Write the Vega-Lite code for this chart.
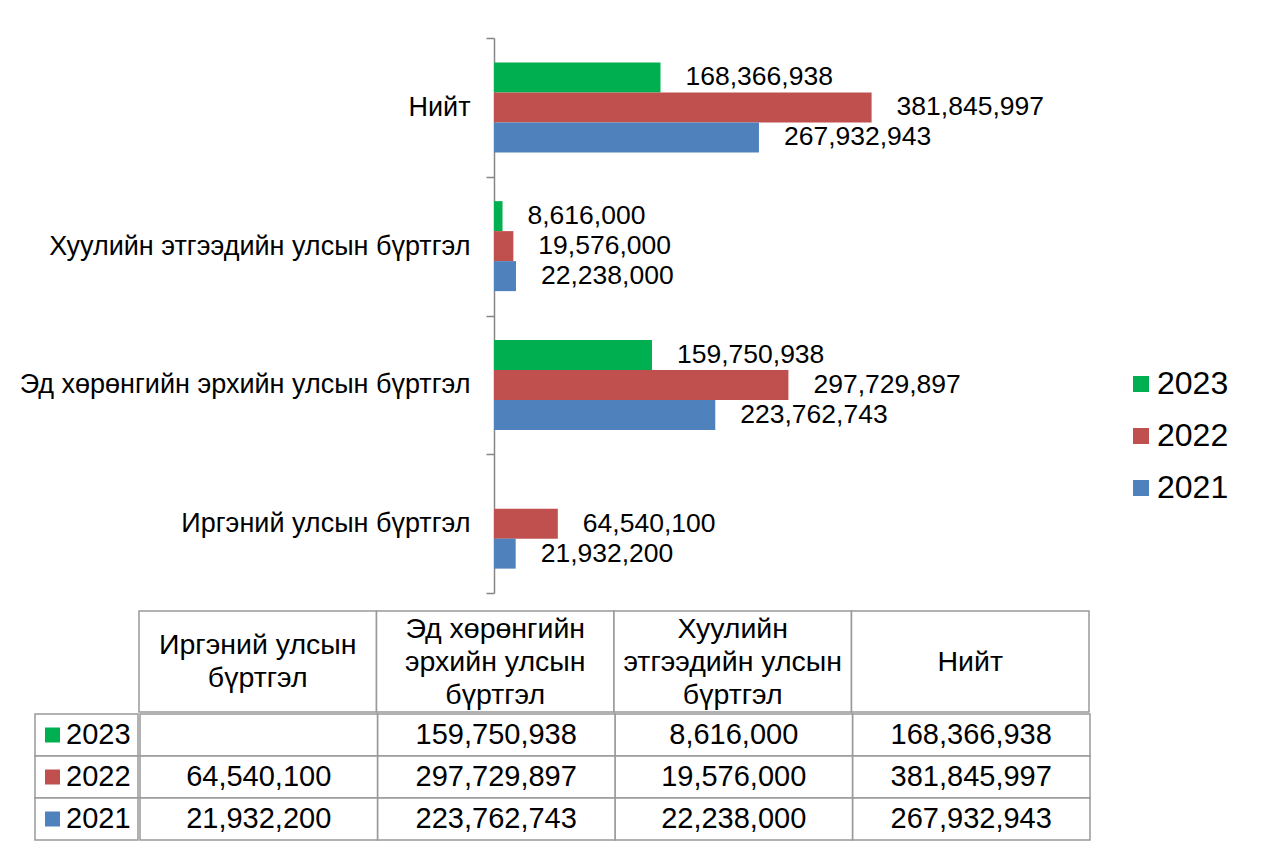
{
  "$schema": "https://vega.github.io/schema/vega-lite/v6.json",
  "padding": {"left": 19, "top": 24, "right": 5, "bottom": 5},
  "background": "#ffffff",
  "config": {"view": {"stroke": null}, "font": "Liberation Sans"},
  "datasets": {
    "main": [
      {"category": "Нийт", "year": "2023", "value": 168366938},
      {"category": "Нийт", "year": "2022", "value": 381845997},
      {"category": "Нийт", "year": "2021", "value": 267932943},
      {"category": "Хуулийн этгээдийн улсын бүртгэл", "year": "2023", "value": 8616000},
      {"category": "Хуулийн этгээдийн улсын бүртгэл", "year": "2022", "value": 19576000},
      {"category": "Хуулийн этгээдийн улсын бүртгэл", "year": "2021", "value": 22238000},
      {"category": "Эд хөрөнгийн эрхийн улсын бүртгэл", "year": "2023", "value": 159750938},
      {"category": "Эд хөрөнгийн эрхийн улсын бүртгэл", "year": "2022", "value": 297729897},
      {"category": "Эд хөрөнгийн эрхийн улсын бүртгэл", "year": "2021", "value": 223762743},
      {"category": "Иргэний улсын бүртгэл", "year": "2023", "value": null},
      {"category": "Иргэний улсын бүртгэл", "year": "2022", "value": 64540100},
      {"category": "Иргэний улсын бүртгэл", "year": "2021", "value": 21932200}
    ],
    "headers": [
      {"category": "Иргэний улсын бүртгэл", "label": "Иргэний улсын\nбүртгэл"},
      {"category": "Эд хөрөнгийн эрхийн улсын бүртгэл", "label": "Эд хөрөнгийн\nэрхийн улсын\nбүртгэл"},
      {"category": "Хуулийн этгээдийн улсын бүртгэл", "label": "Хуулийн\nэтгээдийн улсын\nбүртгэл"},
      {"category": "Нийт", "label": "Нийт"}
    ]
  },
  "spacing": 16,
  "vconcat": [
    {
      "width": 904,
      "height": 555,
      "data": {"name": "main"},
      "encoding": {
        "y": {
          "field": "category", "type": "nominal",
          "sort": ["Нийт", "Хуулийн этгээдийн улсын бүртгэл", "Эд хөрөнгийн эрхийн улсын бүртгэл", "Иргэний улсын бүртгэл"],
          "scale": {"paddingInner": 0, "paddingOuter": 0},
          "axis": {
            "title": null, "offset": -459, "domainColor": "#868686", "domainWidth": 1.5,
            "tickColor": "#868686", "tickWidth": 1.5, "tickSize": 8, "tickBand": "extent",
            "labelPadding": 16, "labelFontSize": 27, "labelFont": "Liberation Sans",
            "labelColor": "#000000", "labelLimit": 0
          }
        },
        "yOffset": {
          "field": "year", "type": "nominal", "sort": ["2023", "2022", "2021"],
          "scale": {"paddingInner": 0, "paddingOuter": 0.8125}
        },
        "x": {"field": "value", "type": "quantitative", "scale": {"domain": [0, 450000000], "range": [459, 904]}, "axis": null}
      },
      "layer": [
        {
          "mark": {"type": "bar"},
          "encoding": {
            "color": {
              "field": "year", "type": "nominal",
              "scale": {"domain": ["2023", "2022", "2021"], "range": ["#00B050", "#C0504D", "#4F81BD"]},
              "legend": {
                "orient": "none", "legendX": 1090, "legendY": 330, "title": null,
                "labelFontSize": 32, "labelFont": "Liberation Sans", "labelColor": "#000000",
                "symbolType": "square", "symbolSize": 256, "symbolStrokeWidth": 0,
                "labelOffset": 0, "rowPadding": 20, "padding": 0
              }
            }
          }
        },
        {
          "mark": {"type": "text", "align": "left", "baseline": "middle", "dx": 25, "fontSize": 26.5, "font": "Liberation Sans", "color": "#000000"},
          "encoding": {"text": {"field": "value", "type": "quantitative", "format": ","}}
        }
      ]
    },
    {
      "spacing": 0,
      "vconcat": [
        {
          "spacing": 0,
          "hconcat": [
            {"width": 103, "height": 101, "data": {"values": []}, "mark": "point"},
            {
              "width": 950,
              "height": 101,
              "data": {"name": "headers"},
              "encoding": {
                "x": {
                  "field": "category", "type": "nominal",
                  "sort": ["Иргэний улсын бүртгэл", "Эд хөрөнгийн эрхийн улсын бүртгэл", "Хуулийн этгээдийн улсын бүртгэл", "Нийт"],
                  "scale": {"paddingInner": 0, "paddingOuter": 0}, "axis": null
                }
              },
              "layer": [
                {"mark": {"type": "rect", "fill": "#ffffff", "stroke": "#999999", "strokeWidth": 1.5}},
                {
                  "transform": [{"filter": "length(split(datum.label, '\\n')) == 1"}],
                  "mark": {"type": "text", "lineBreak": "\n", "fontSize": 28.5, "lineHeight": 33, "font": "Liberation Sans", "color": "#000000", "baseline": "middle"},
                  "encoding": {"text": {"field": "label"}}
                },
                {
                  "transform": [{"filter": "length(split(datum.label, '\\n')) == 2"}],
                  "mark": {"type": "text", "lineBreak": "\n", "fontSize": 28.5, "lineHeight": 33, "dy": -16.5, "font": "Liberation Sans", "color": "#000000", "baseline": "middle"},
                  "encoding": {"text": {"field": "label"}}
                },
                {
                  "transform": [{"filter": "length(split(datum.label, '\\n')) == 3"}],
                  "mark": {"type": "text", "lineBreak": "\n", "fontSize": 28.5, "lineHeight": 33, "dy": -33, "font": "Liberation Sans", "color": "#000000", "baseline": "middle"},
                  "encoding": {"text": {"field": "label"}}
                }
              ]
            }
          ]
        },
        {
          "spacing": 0,
          "hconcat": [
            {
              "width": 103,
              "height": 126,
              "data": {"name": "main"},
              "transform": [{"aggregate": [{"op": "count", "as": "n"}], "groupby": ["year"]}],
              "encoding": {
                "y": {"field": "year", "type": "nominal", "sort": ["2023", "2022", "2021"], "axis": null, "scale": {"paddingInner": 0, "paddingOuter": 0}}
              },
              "layer": [
                {"mark": {"type": "rect", "fill": "#ffffff", "stroke": "#999999", "strokeWidth": 1.5}},
                {
                  "mark": {"type": "point", "shape": "square", "filled": true, "size": 225, "opacity": 1, "xOffset": -34},
                  "encoding": {
                    "color": {
                      "field": "year", "type": "nominal",
                      "scale": {"domain": ["2023", "2022", "2021"], "range": ["#00B050", "#C0504D", "#4F81BD"]},
                      "legend": {
                        "orient": "none", "legendX": 1090, "legendY": 330, "title": null,
                        "labelFontSize": 32, "labelFont": "Liberation Sans", "labelColor": "#000000",
                        "symbolType": "square", "symbolSize": 256, "symbolStrokeWidth": 0,
                        "labelOffset": 0, "rowPadding": 20, "padding": 0
                      }
                    }
                  }
                },
                {
                  "mark": {"type": "text", "align": "left", "baseline": "middle", "dx": -20.5, "fontSize": 29, "font": "Liberation Sans", "color": "#000000"},
                  "encoding": {"text": {"field": "year"}}
                }
              ]
            },
            {
              "width": 950,
              "height": 126,
              "data": {"name": "main"},
              "encoding": {
                "x": {
                  "field": "category", "type": "nominal",
                  "sort": ["Иргэний улсын бүртгэл", "Эд хөрөнгийн эрхийн улсын бүртгэл", "Хуулийн этгээдийн улсын бүртгэл", "Нийт"],
                  "scale": {"paddingInner": 0, "paddingOuter": 0}, "axis": null
                },
                "y": {"field": "year", "type": "nominal", "sort": ["2023", "2022", "2021"], "axis": null, "scale": {"paddingInner": 0, "paddingOuter": 0}}
              },
              "layer": [
                {"mark": {"type": "rect", "fill": "#ffffff", "stroke": "#999999", "strokeWidth": 1.5}},
                {
                  "transform": [{"filter": "isValid(datum.value)"}],
                  "mark": {"type": "text", "baseline": "middle", "fontSize": 29, "font": "Liberation Sans", "color": "#000000"},
                  "encoding": {"text": {"field": "value", "type": "quantitative", "format": ","}}
                }
              ]
            }
          ]
        }
      ]
    }
  ]
}
